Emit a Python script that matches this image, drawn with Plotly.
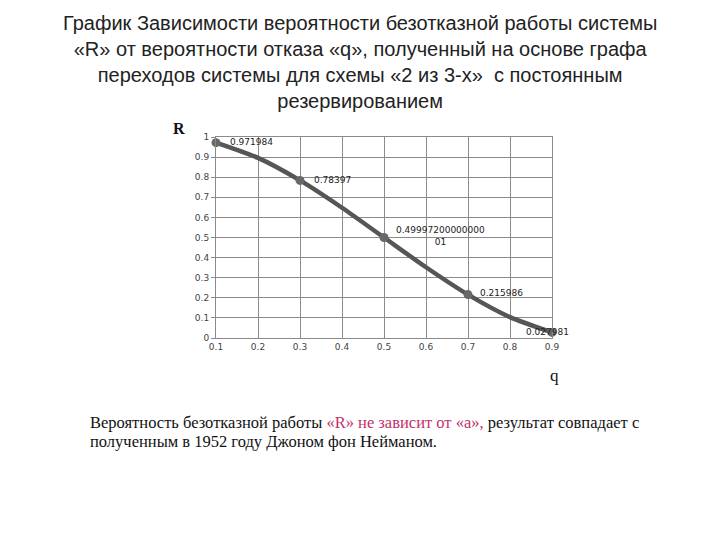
import plotly.graph_objects as go

q_all = [0.1, 0.2, 0.3, 0.4, 0.5, 0.6, 0.7, 0.8, 0.9]
R_all = [0.971984, 0.896, 0.78397, 0.648, 0.499972, 0.352, 0.215986, 0.104, 0.027981]
q_mark = [0.1, 0.3, 0.5, 0.7, 0.9]
R_mark = [0.971984, 0.78397, 0.499972, 0.215986, 0.027981]
labels = ["0.971984", "0.78397", "0.49997200000000<br>01", "0.215986", "0.027981"]
x_ticks = [0.1, 0.2, 0.3, 0.4, 0.5, 0.6, 0.7, 0.8, 0.9]
y_ticks = [0, 0.1, 0.2, 0.3, 0.4, 0.5, 0.6, 0.7, 0.8, 0.9, 1]
y_tick_text = ["0", "0.1", "0.2", "0.3", "0.4", "0.5", "0.6", "0.7", "0.8", "0.9", "1"]

title = ("График Зависимости вероятности безотказной работы системы<br>"
         "«R» от вероятности отказа «q», полученный на основе графа<br>"
         "переходов системы для схемы «2 из 3-х»  с постоянным<br>"
         "резервированием")
note_line1 = ("Вероятность безотказной работы <span style='color:#c2306b'>«R» не зависит от «a»,</span> "
              "результат совпадает с")
note_line2 = "полученным в 1952 году Джоном фон Нейманом."

# page body has an 8px margin; all pixel targets are corrected by it
OFF = 8
W, H = 720, 540
l, r, t, b = 216 - OFF, 168 + OFF, 137 - OFF, 202 + OFF
pw, ph = W - l - r, H - t - b


def px(x):
    return (x - OFF - l) / pw


def py(y):
    return ((H - (y - OFF)) - b) / ph


fig = go.Figure()
fig.add_trace(go.Scatter(x=q_all, y=R_all, mode="lines",
                         line=dict(color="#565656", width=4.5, shape="spline", smoothing=0.7),
                         hoverinfo="skip", showlegend=False, cliponaxis=False))
fig.add_trace(go.Scatter(x=q_mark, y=R_mark, mode="markers",
                         marker=dict(color="#686868", size=9), showlegend=False, cliponaxis=False))

annotations = []
# data labels: (xshift, yshift) per point
lab_style = [(12, 1, "left"), (12, 0, "left"), (10, 2, "left"), (10, 2, "left"), (-28, 0, "left")]
for qv, rv, txt, (xs, ys, xa) in zip(q_mark, R_mark, labels, lab_style):
    annotations.append(dict(x=qv, y=rv, xref="x", yref="y", text=txt, showarrow=False,
                            xanchor=xa, yanchor="middle", align="center",
                            xshift=xs, yshift=ys,
                            font=dict(family="DejaVu Sans", size=9, color="#222")))

annotations += [
    dict(text=title, x=px(360), y=py(10), xref="paper", yref="paper", showarrow=False,
         xanchor="center", yanchor="top", align="center",
         font=dict(family="Liberation Sans", size=20, color="#222")),
    dict(text="<b>R</b>", x=px(179), y=py(128), xref="paper", yref="paper", showarrow=False,
         xanchor="center", yanchor="middle",
         font=dict(family="Liberation Serif", size=16, color="#111")),
    dict(text="q", x=px(554), y=py(375), xref="paper", yref="paper", showarrow=False,
         xanchor="center", yanchor="middle",
         font=dict(family="Liberation Serif", size=17, color="#111")),
    dict(text=note_line1, x=px(88), y=py(422), xref="paper", yref="paper", showarrow=False,
         align="left", xanchor="left", yanchor="middle",
         font=dict(family="Liberation Serif", size=16.5, color="#111")),
    dict(text=note_line2, x=px(88), y=py(441), xref="paper", yref="paper", showarrow=False,
         align="left", xanchor="left", yanchor="middle",
         font=dict(family="Liberation Serif", size=16.5, color="#111")),
]

fig.update_layout(
    width=W, height=H,
    margin=dict(l=l, r=r, t=t, b=b),
    plot_bgcolor="white", paper_bgcolor="white",
    xaxis=dict(range=[0.1, 0.9], tickvals=x_ticks, ticktext=[str(v) for v in x_ticks],
               showgrid=True, gridcolor="#8a8a8a", gridwidth=1, zeroline=False,
               showline=True, linecolor="#8a8a8a", mirror=True,
               tickfont=dict(family="DejaVu Sans", size=9, color="#444"), ticks="", ticklen=0),
    yaxis=dict(range=[0, 1], tickvals=y_ticks, ticktext=y_tick_text,
               showgrid=True, gridcolor="#8a8a8a", gridwidth=1, zeroline=False,
               showline=True, linecolor="#8a8a8a", mirror=True,
               ticks="outside", ticklen=4, tickcolor="#8a8a8a",
               tickfont=dict(family="DejaVu Sans", size=9, color="#444")),
    annotations=annotations,
)

fig.write_html("out.html")
